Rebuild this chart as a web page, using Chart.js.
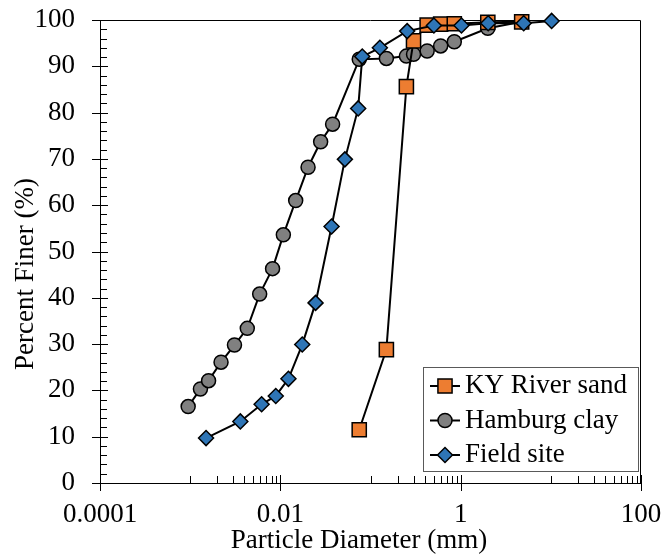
<!DOCTYPE html>
<html>
<head>
<meta charset="utf-8">
<title>Particle size distribution</title>
<script src="https://cdn.jsdelivr.net/npm/chart.js@4.4.1/dist/chart.umd.min.js"></script>
<style>
  html, body { margin: 0; padding: 0; background: #fff; }
  canvas { display: block; }
</style>
</head>
<body>
<canvas id="gradation" width="663" height="557"></canvas>
<script>
const seriesNames = ['KY River sand', 'Hamburg clay', 'Field site'];

// sieve / hydrometer results, diameter in mm and percent finer
const sandDiameter = [0.075, 0.15, 0.25, 0.3, 0.425, 0.6, 0.85, 2.0, 4.75];
const sandFiner = [11.5, 28.8, 85.6, 95.5, 98.9, 99.1, 99.2, 99.5, 99.6];

const clayDiameter = [0.00095, 0.0013, 0.0016, 0.0022, 0.0031, 0.0043, 0.0059, 0.0082, 0.0108,
  0.0148, 0.0203, 0.028, 0.038, 0.075, 0.15, 0.25, 0.3, 0.425, 0.6, 0.85, 2.0, 4.75];
const clayFiner = [16.5, 20.3, 22.1, 26.1, 29.8, 33.4, 40.8, 46.3, 53.6,
  61.0, 68.2, 73.7, 77.5, 91.5, 91.7, 92.2, 92.6, 93.3, 94.4, 95.3, 98.2, 99.6];

const fieldDiameter = [0.0015, 0.0036, 0.0062, 0.0089, 0.0123, 0.0175, 0.0246, 0.037, 0.052,
  0.073, 0.081, 0.127, 0.255, 0.505, 1.02, 2.02, 5.0, 10.2];
const fieldFiner = [9.7, 13.3, 17.0, 18.8, 22.5, 29.9, 38.9, 55.4, 69.9,
  80.9, 92.1, 94.0, 97.6, 98.8, 98.8, 99.3, 99.3, 99.8];

const xTickValues = [0.0001, 0.01, 1, 100];
const xTickLabels = ['0.0001', '0.01', '1', '100'];
const xMinorDecades = [-3, -1, 1];   // decades that carry minor ticks
const yMax = 100;
const yStep = 10;
const yMinorStep = 2;

const FONT = "'Liberation Serif', 'Times New Roman', serif";
const FONT_SIZE = 27;

function toPoints(xs, ys) {
  return xs.map((x, i) => ({ x: x, y: ys[i] }));
}

function drawMarker(ctx, ds, x, y) {
  const r = ds.pointRadius;
  ctx.save();
  ctx.fillStyle = ds.pointBackgroundColor;
  ctx.strokeStyle = ds.pointBorderColor;
  ctx.lineWidth = ds.pointBorderWidth;
  ctx.beginPath();
  if (ds.pointStyle === 'rect') {
    const s = r * Math.SQRT1_2;
    ctx.rect(x - s, y - s, 2 * s, 2 * s);
  } else if (ds.pointStyle === 'rectRot') {
    ctx.moveTo(x - r, y);
    ctx.lineTo(x, y - r);
    ctx.lineTo(x + r, y);
    ctx.lineTo(x, y + r);
    ctx.closePath();
  } else {
    ctx.arc(x, y, r, 0, Math.PI * 2);
  }
  ctx.fill();
  ctx.stroke();
  ctx.restore();
}

// axis lines, frame and inside tick marks
const axisMarks = {
  id: 'axisMarks',
  beforeDatasetsDraw(chart) {
    const { ctx, chartArea: a, scales } = chart;
    const xs = scales.x, ys = scales.y;
    ctx.save();
    ctx.strokeStyle = '#000';
    ctx.lineWidth = 1;
    ctx.beginPath();
    // frame
    ctx.moveTo(a.left + 0.5, a.top + 0.5);
    ctx.lineTo(a.right - 0.5, a.top + 0.5);
    ctx.lineTo(a.right - 0.5, a.bottom);
    ctx.moveTo(a.left + 0.5, a.top);
    ctx.lineTo(a.left + 0.5, a.bottom + 0.5);
    ctx.lineTo(a.right, a.bottom + 0.5);
    // y ticks
    for (let v = 0; v <= yMax; v += yMinorStep) {
      const py = Math.round(ys.getPixelForValue(v)) + 0.5;
      if (v % yStep === 0) {
        ctx.moveTo(a.left - 8, py);
        ctx.lineTo(a.left + 8, py);
      } else {
        ctx.moveTo(a.left, py);
        ctx.lineTo(a.left + 7, py);
      }
    }
    // x ticks
    xTickValues.forEach(v => {
      const px = Math.round(xs.getPixelForValue(v)) + 0.5;
      ctx.moveTo(px, a.bottom - 8);
      ctx.lineTo(px, a.bottom + 8);
    });
    xMinorDecades.forEach(e => {
      for (let k = 1; k <= 9; k++) {
        const px = Math.round(xs.getPixelForValue(k * Math.pow(10, e))) + 0.5;
        ctx.moveTo(px, a.bottom);
        ctx.lineTo(px, a.bottom - 7);
      }
    });
    ctx.stroke();
    ctx.restore();
  }
};

// axis titles and the boxed legend
const labels = {
  id: 'labels',
  afterDraw(chart) {
    const ctx = chart.ctx;
    ctx.save();
    ctx.fillStyle = '#000';
    ctx.font = FONT_SIZE + 'px ' + FONT;
    ctx.textAlign = 'center';
    ctx.textBaseline = 'middle';
    ctx.fillText('Particle Diameter (mm)', 359, 541);
    ctx.save();
    ctx.translate(26, 274);
    ctx.rotate(-Math.PI / 2);
    ctx.fillText('Percent Finer (%)', 0, 0);
    ctx.restore();

    // legend
    ctx.fillStyle = '#fff';
    ctx.fillRect(423, 367, 215, 104);
    ctx.strokeStyle = '#595959';
    ctx.lineWidth = 1;
    ctx.strokeRect(423.5, 367.5, 215, 104);
    ctx.textAlign = 'left';
    chart.data.datasets.forEach((ds, i) => {
      const cy = 386 + i * 34.5;
      ctx.strokeStyle = ds.borderColor;
      ctx.lineWidth = ds.borderWidth;
      ctx.beginPath();
      ctx.moveTo(430, cy);
      ctx.lineTo(460, cy);
      ctx.stroke();
      drawMarker(ctx, ds, 445, cy);
      ctx.fillStyle = '#000';
      ctx.fillText(ds.label, 465, cy);
    });
    ctx.restore();
  }
};

function series(label, xs, ys, style, color, radius, order) {
  return {
    label: label,
    data: toPoints(xs, ys),
    borderColor: '#000',
    borderWidth: 2,
    pointStyle: style,
    pointRadius: radius,
    pointBackgroundColor: color,
    pointBorderColor: '#000',
    pointBorderWidth: 1.5,
    tension: 0,
    clip: false,
    order: order
  };
}

const chart = new Chart(document.getElementById('gradation'), {
  type: 'line',
  data: {
    datasets: [
      series(seriesNames[0], sandDiameter, sandFiner, 'rect', '#ED7D31', 10, 1),
      series(seriesNames[1], clayDiameter, clayFiner, 'circle', '#808080', 7, 2),
      series(seriesNames[2], fieldDiameter, fieldFiner, 'rectRot', '#2E75B6', 7.5, 0)
    ]
  },
  options: {
    responsive: false,
    animation: false,
    devicePixelRatio: 1,
    layout: { padding: { top: 20, right: 22, left: 0, bottom: 0 } },
    plugins: {
      legend: { display: false },
      tooltip: { enabled: false }
    },
    scales: {
      x: {
        type: 'logarithmic',
        min: 0.0001,
        max: 100,
        grid: { display: false, drawTicks: false },
        border: { display: false },
        afterBuildTicks: s => { s.ticks = xTickValues.map(v => ({ value: v })); },
        afterFit: s => { s.height = 74; s.paddingLeft = 0; s.paddingRight = 0; },
        ticks: {
          color: '#000',
          padding: 16,
          maxRotation: 0,
          autoSkip: false,
          font: { family: FONT, size: FONT_SIZE },
          callback: (v, i) => xTickLabels[i]
        }
      },
      y: {
        min: 0,
        max: yMax,
        grid: { display: false, drawTicks: false },
        border: { display: false },
        afterFit: s => { s.width = 100; s.paddingTop = 0; s.paddingBottom = 0; },
        ticks: {
          color: '#000',
          padding: 25,
          stepSize: yStep,
          font: { family: FONT, size: FONT_SIZE }
        }
      }
    }
  },
  plugins: [axisMarks, labels]
});
</script>
</body>
</html>
